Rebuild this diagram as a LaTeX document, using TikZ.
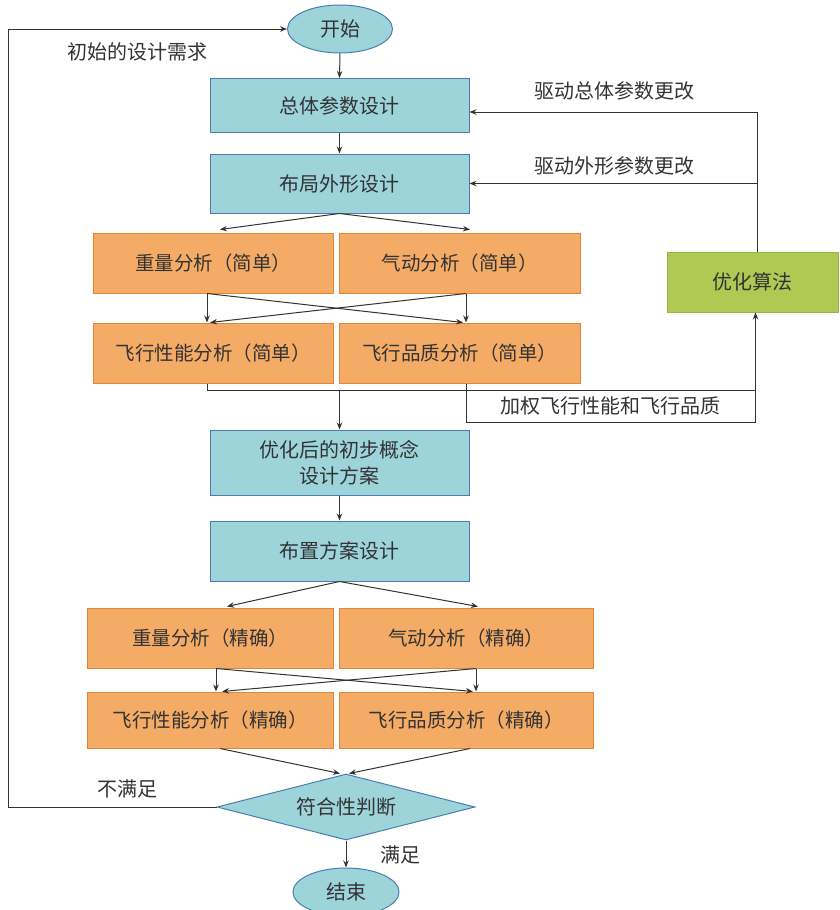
\documentclass[tikz,border=0pt]{standalone}
\usepackage{fontspec}
\setmainfont{Noto Sans CJK SC}
\usetikzlibrary{shapes.geometric,arrows.meta}
\definecolor{cyanfill}{HTML}{9DD4DA}
\definecolor{cyanline}{HTML}{4A7EB0}
\definecolor{orgfill}{HTML}{F4AB66}
\definecolor{orgline}{HTML}{E58637}
\definecolor{grnfill}{HTML}{AFC953}
\definecolor{grnline}{HTML}{97B347}
\definecolor{ink}{HTML}{333333}
\tikzset{
  base/.style={inner sep=0pt, text=ink, font=\fontsize{20}{26}\selectfont, line width=1pt, align=center},
  cyanbox/.style={base, draw=cyanline, fill=cyanfill, rectangle},
  orgbox/.style={base, draw=orgline, fill=orgfill, rectangle, font=\fontsize{19.5}{24}\selectfont},
  grnbox/.style={base, draw=grnline, fill=grnfill, rectangle},
  oval/.style={base, draw=cyanline, fill=cyanfill, ellipse},
  decide/.style={base, draw=cyanline, fill=cyanfill, diamond, shape aspect=3.9},
  lbl/.style={inner sep=0pt, text=ink, font=\fontsize{20}{24}\selectfont},
  conn/.style={draw=ink, line width=1pt},
  arr/.style={conn, -{Stealth[length=7pt,width=5.5pt]}}
}
\begin{document}
\begin{tikzpicture}[x=1pt,y=-1pt]
\useasboundingbox (0,0) rectangle (839,910);
% nodes
\node[oval, minimum width=105, minimum height=48] (start) at (340,29) {开始};
\node[cyanbox, minimum width=259, minimum height=54] (zt) at (339.5,105.5) {总体参数设计};
\node[cyanbox, minimum width=259, minimum height=59] (bj) at (339.5,183.5) {布局外形设计};
\node[orgbox, minimum width=240, minimum height=60] (zl1) at (213,263) {重量分析（简单）};
\node[orgbox, minimum width=241, minimum height=60] (qd1) at (459.5,263) {气动分析（简单）};
\node[orgbox, minimum width=240, minimum height=60] (xn1) at (213,353) {飞行性能分析（简单）};
\node[orgbox, minimum width=241, minimum height=60] (pz1) at (459.5,353) {飞行品质分析（简单）};
\node[grnbox, minimum width=171, minimum height=60] (opt) at (752.5,282) {优化算法};
\node[cyanbox, minimum width=259, minimum height=65] (yh) at (339.5,462.5) {优化后的初步概念\\设计方案};
\node[cyanbox, minimum width=259, minimum height=60] (bz) at (339.5,551) {布置方案设计};
\node[orgbox, minimum width=246, minimum height=60] (zl2) at (210,638) {重量分析（精确）};
\node[orgbox, minimum width=254, minimum height=60] (qd2) at (466,638) {气动分析（精确）};
\node[orgbox, minimum width=246, minimum height=56] (xn2) at (210,720) {飞行性能分析（精确）};
\node[orgbox, minimum width=254, minimum height=56] (pz2) at (466,720) {飞行品质分析（精确）};
\node[decide, minimum width=258, minimum height=66] (dia) at (346,807) {符合性判断};
\node[oval, minimum width=106, minimum height=48] (end) at (346,892) {结束};
% labels
\node[lbl] (l1) at (137,52) {初始的设计需求};
\node[lbl] (l2) at (614,91) {驱动总体参数更改};
\node[lbl] (l3) at (614,166) {驱动外形参数更改};
\node[lbl] (l4) at (610,406) {加权飞行性能和飞行品质};
\node[lbl] (l5) at (127,789) {不满足};
\node[lbl] (l6) at (400,855) {满足};
% helper coordinates
\coordinate (lx) at (8,0);
\coordinate (c1) at (757,112);
\coordinate (j1) at (755.5,390);
\coordinate (j2) at (755.5,422);
\coordinate (j3) at (339.5,390);
% connectors
\draw[arr] (start.south) -- (zt.north);
\draw[arr] (zt.south) -- (bj.north);
\draw[arr] (bj.south) -- ([xshift=7pt,yshift=3pt]zl1.north);
\draw[arr] (bj.south) -- ([xshift=10.5pt,yshift=3pt]qd1.north);
\draw[arr] ([xshift=-6pt]zl1.south) -- ([xshift=-6pt]xn1.north);
\draw[arr] ([xshift=-6pt]zl1.south) -- ([xshift=3.5pt]pz1.north);
\draw[arr] ([xshift=6.5pt]qd1.south) -- ([xshift=6.5pt]pz1.north);
\draw[arr] ([xshift=6.5pt]qd1.south) -- ([xshift=-3pt]xn1.north);
\draw[conn] ([xshift=-6pt]xn1.south) |- (j1);
\draw[arr] ([xshift=6.5pt]pz1.south) |- (j2) -- ([xshift=3pt]opt.south);
\draw[arr] (j3) -- (yh.north);
\draw[arr] ([xshift=4.5pt]opt.north) -- (c1) -- (c1 -| zt.east);
\draw[arr] (c1 |- bj.east) -- (bj.east);
\draw[arr] (yh.south) -- (bz.north);
\draw[arr] (bz.south) -- ([xshift=17pt,yshift=1pt]zl2.north);
\draw[arr] (bz.south) -- ([xshift=12pt,yshift=1pt]qd2.north);
\draw[arr] ([xshift=6pt]zl2.south) -- ([xshift=6pt]xn2.north);
\draw[arr] ([xshift=6pt]zl2.south) -- ([xshift=7pt]pz2.north);
\draw[arr] ([xshift=10pt]qd2.south) -- ([xshift=10pt]pz2.north);
\draw[arr] ([xshift=10pt]qd2.south) -- ([xshift=12pt]xn2.north);
\draw[arr] ([xshift=10pt]xn2.south) -- ([xshift=-6pt]dia.north);
\draw[arr] ([xshift=4pt]pz2.south) -- ([xshift=3pt]dia.north);
\draw[arr] (dia.west) -| (lx |- start.west) -- (start.west);
\draw[arr] (dia.south) -- (end.north);
\end{tikzpicture}
\end{document}
